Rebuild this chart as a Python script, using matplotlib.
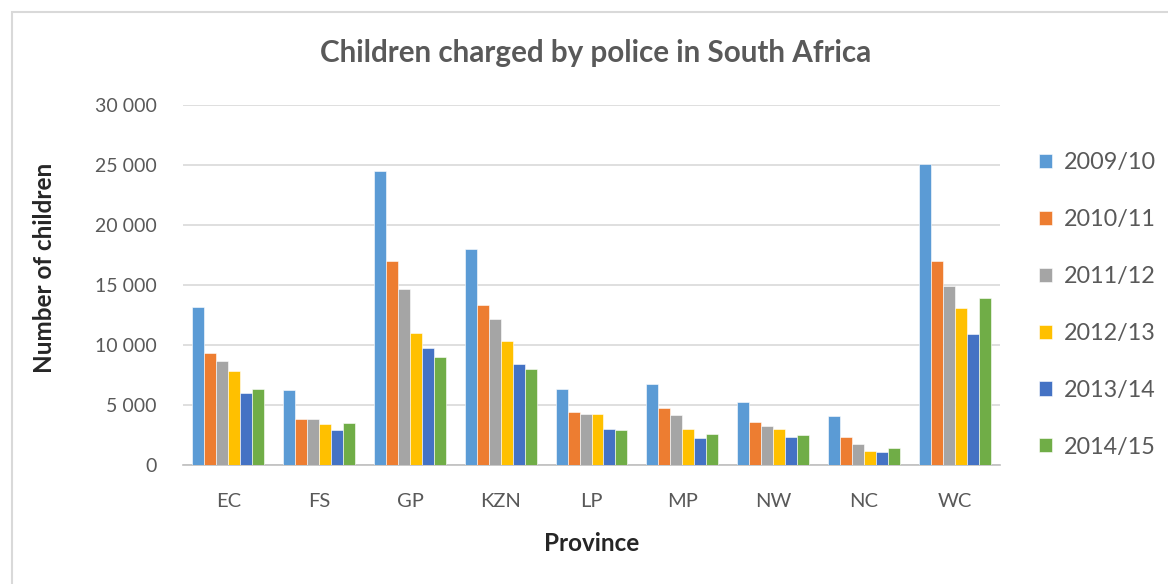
import matplotlib
matplotlib.use("Agg")
import matplotlib.pyplot as plt
import numpy as np
from matplotlib.patches import Rectangle
from matplotlib.ticker import FuncFormatter

provinces = ["EC", "FS", "GP", "KZN", "LP", "MP", "NW", "NC", "WC"]
years = ["2009/10", "2010/11", "2011/12", "2012/13", "2013/14", "2014/15"]
v2009 = [13140, 6220, 24470, 17970, 6310, 6720, 5220, 4060, 25110]
v2010 = [9310, 3860, 17000, 13360, 4390, 4720, 3560, 2360, 17000]
v2011 = [8670, 3860, 14640, 12190, 4280, 4170, 3220, 1720, 14890]
v2012 = [7810, 3420, 11000, 10360, 4280, 3000, 3000, 1190, 13060]
v2013 = [5970, 2890, 9720, 8440, 3000, 2250, 2360, 1060, 10920]
v2014 = [6310, 3530, 8970, 8030, 2890, 2560, 2470, 1390, 13920]
series = [v2009, v2010, v2011, v2012, v2013, v2014]
colors = ["#5b9bd5", "#ed7d31", "#a5a5a5", "#ffc000", "#4472c4", "#70ad47"]

plt.rcParams['font.family'] = ['Lato', 'DejaVu Sans']
txt = "#595959"

fig = plt.figure(figsize=(11.68, 5.84), dpi=100)
fig.patches.append(Rectangle((12/1168, -0.1), 1.2, (584-12)/584 + 0.1,
                             transform=fig.transFigure, facecolor="white",
                             edgecolor="#d9d9d9", linewidth=1.5, zorder=-10))
ax = fig.add_axes([183/1168, 119/584, 817/1168, 360/584])

x = np.arange(len(provinces))
n = len(series)
bw = 0.132
for i, (vals, c, lab) in enumerate(zip(series, colors, years)):
    ax.bar(x + (i - (n - 1) / 2) * bw, vals, width=bw, color=c, label=lab,
           edgecolor="white", linewidth=0.4, zorder=3)

ax.set_xlim(-0.5, len(provinces) - 0.5)
ax.set_ylim(0, 30000)
ax.set_yticks(np.arange(0, 30001, 5000))
ax.yaxis.set_major_formatter(FuncFormatter(lambda v, p: f"{int(v):,}".replace(",", " ")))
ax.set_xticks(x)
ax.set_xticklabels(provinces)
ax.grid(axis="y", color="#d9d9d9", linewidth=1.2, zorder=0)
for s in ["top", "right", "left"]:
    ax.spines[s].set_visible(False)
ax.spines["bottom"].set_color("#bfbfbf")
ax.spines["bottom"].set_linewidth(1.2)
ax.tick_params(axis="y", length=0, labelsize=14, colors=txt, pad=19)
ax.tick_params(axis="x", length=0, labelsize=14.5, colors=txt, pad=20)

ax.set_ylabel("Number of children", fontsize=17.5, fontweight="bold", color="#262626")
ax.yaxis.set_label_coords(-0.155, 0.547)
ax.set_xlabel("Province", fontsize=17.5, fontweight="bold", color="#262626")
ax.xaxis.set_label_coords(0.5, -0.186)
fig.text(596/1168, 1 - 53/584, "Children charged by police in South Africa",
         ha="center", va="center", fontsize=21.3, fontweight="bold", color=txt)

leg = fig.legend(loc="upper left", bbox_to_anchor=(1018/1168, 1 - 131/584),
                 frameon=False, fontsize=16.8, labelspacing=1.54,
                 handlelength=0.55, handleheight=0.55, handletextpad=0.5)
for t in leg.get_texts():
    t.set_color(txt)

fig.savefig("out.png", dpi=100)
